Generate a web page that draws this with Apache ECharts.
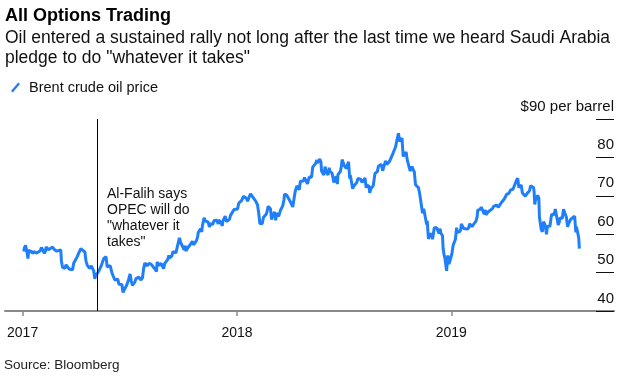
<!DOCTYPE html>
<html>
<head>
<meta charset="utf-8">
<script src="https://cdn.jsdelivr.net/npm/echarts@6/dist/echarts.min.js"></script>
<style>
  html, body { margin: 0; padding: 0; background: #fff; }
  #chart { width: 627px; height: 376px; }
</style>
</head>
<body>
<div id="chart"></div>
<script>
// Brent crude (roughly 2-3 points a week)
var dates = [
  '2017-01-03','2017-01-04','2017-01-05','2017-01-06','2017-01-09','2017-01-10','2017-01-11','2017-01-12','2017-01-13','2017-01-17',
  '2017-01-18','2017-01-20','2017-01-23','2017-01-25','2017-01-27','2017-01-31','2017-02-02','2017-02-03','2017-02-07','2017-02-09',
  '2017-02-10','2017-02-14','2017-02-16','2017-02-17','2017-02-21','2017-02-23','2017-02-24','2017-02-28','2017-03-02','2017-03-03',
  '2017-03-07','2017-03-08','2017-03-09','2017-03-10','2017-03-13','2017-03-14','2017-03-16','2017-03-17','2017-03-21','2017-03-22',
  '2017-03-24','2017-03-27','2017-03-29','2017-03-31','2017-04-04','2017-04-06','2017-04-07','2017-04-10','2017-04-12','2017-04-13',
  '2017-04-17','2017-04-19','2017-04-21','2017-04-25','2017-04-27','2017-04-28','2017-05-02','2017-05-04','2017-05-05','2017-05-08',
  '2017-05-10','2017-05-12','2017-05-15','2017-05-17','2017-05-19','2017-05-23','2017-05-24','2017-05-25','2017-05-30','2017-06-01',
  '2017-06-02','2017-06-05','2017-06-07','2017-06-09','2017-06-12','2017-06-14','2017-06-16','2017-06-19','2017-06-21','2017-06-23',
  '2017-06-27','2017-06-30','2017-07-03','2017-07-05','2017-07-07','2017-07-11','2017-07-13','2017-07-14','2017-07-18','2017-07-20',
  '2017-07-21','2017-07-24','2017-07-26','2017-07-28','2017-08-01','2017-08-03','2017-08-04','2017-08-08','2017-08-10','2017-08-11',
  '2017-08-15','2017-08-17','2017-08-18','2017-08-22','2017-08-24','2017-08-25','2017-08-29','2017-08-31','2017-09-01','2017-09-05',
  '2017-09-07','2017-09-08','2017-09-12','2017-09-14','2017-09-15','2017-09-19','2017-09-21','2017-09-22','2017-09-25','2017-09-27',
  '2017-09-29','2017-10-03','2017-10-05','2017-10-06','2017-10-10','2017-10-12','2017-10-13','2017-10-17','2017-10-19','2017-10-20',
  '2017-10-24','2017-10-26','2017-10-27','2017-10-31','2017-11-02','2017-11-03','2017-11-06','2017-11-08','2017-11-10','2017-11-13',
  '2017-11-15','2017-11-17','2017-11-21','2017-11-23','2017-11-24','2017-11-28','2017-11-30','2017-12-01','2017-12-05','2017-12-07',
  '2017-12-08','2017-12-12','2017-12-14','2017-12-15','2017-12-19','2017-12-21','2017-12-22','2017-12-27','2017-12-29',
  '2018-01-02','2018-01-04','2018-01-05','2018-01-09','2018-01-11','2018-01-12','2018-01-15','2018-01-17','2018-01-19','2018-01-22',
  '2018-01-24','2018-01-26','2018-01-29','2018-01-31','2018-02-02','2018-02-05','2018-02-07','2018-02-09','2018-02-13','2018-02-15',
  '2018-02-16','2018-02-20','2018-02-22','2018-02-23','2018-02-27','2018-03-01','2018-03-02','2018-03-06','2018-03-08','2018-03-09',
  '2018-03-13','2018-03-15','2018-03-16','2018-03-20','2018-03-22','2018-03-23','2018-03-27','2018-03-29','2018-04-03','2018-04-05',
  '2018-04-06','2018-04-10','2018-04-12','2018-04-13','2018-04-17','2018-04-19','2018-04-20','2018-04-24','2018-04-26','2018-04-27',
  '2018-05-01','2018-05-03','2018-05-04','2018-05-08','2018-05-10','2018-05-11','2018-05-15','2018-05-17','2018-05-18','2018-05-22',
  '2018-05-24','2018-05-25','2018-05-29','2018-05-31','2018-06-01','2018-06-05','2018-06-07','2018-06-08','2018-06-12','2018-06-14',
  '2018-06-15','2018-06-19','2018-06-21','2018-06-22','2018-06-26','2018-06-28','2018-06-29','2018-07-03','2018-07-05','2018-07-06',
  '2018-07-10','2018-07-12','2018-07-13','2018-07-17','2018-07-19','2018-07-20','2018-07-24','2018-07-26','2018-07-27','2018-07-31',
  '2018-08-02','2018-08-03','2018-08-07','2018-08-09','2018-08-10','2018-08-14','2018-08-15','2018-08-17','2018-08-21','2018-08-23',
  '2018-08-24','2018-08-28','2018-08-30','2018-08-31','2018-09-04','2018-09-06','2018-09-07','2018-09-11','2018-09-13','2018-09-14',
  '2018-09-18','2018-09-20','2018-09-21','2018-09-24','2018-09-26','2018-09-28','2018-10-01','2018-10-03','2018-10-05','2018-10-09',
  '2018-10-11','2018-10-12','2018-10-16','2018-10-18','2018-10-19','2018-10-23','2018-10-25','2018-10-26','2018-10-30','2018-11-01',
  '2018-11-02','2018-11-06','2018-11-08','2018-11-09','2018-11-13','2018-11-15','2018-11-16','2018-11-20','2018-11-21','2018-11-23',
  '2018-11-27','2018-11-29','2018-11-30','2018-12-03','2018-12-05','2018-12-07','2018-12-11','2018-12-13','2018-12-14','2018-12-17',
  '2018-12-18','2018-12-20','2018-12-21','2018-12-24','2018-12-26','2018-12-28','2018-12-31',
  '2019-01-02','2019-01-04','2019-01-08','2019-01-10','2019-01-11','2019-01-15','2019-01-17','2019-01-18','2019-01-22','2019-01-24',
  '2019-01-25','2019-01-29','2019-01-31','2019-02-01','2019-02-05','2019-02-07','2019-02-08','2019-02-12','2019-02-14','2019-02-15',
  '2019-02-19','2019-02-21','2019-02-22','2019-02-26','2019-02-28','2019-03-01','2019-03-05','2019-03-07','2019-03-08','2019-03-12',
  '2019-03-14','2019-03-15','2019-03-19','2019-03-21','2019-03-22','2019-03-26','2019-03-28','2019-03-29','2019-04-02','2019-04-04',
  '2019-04-05','2019-04-09','2019-04-11','2019-04-12','2019-04-16','2019-04-18','2019-04-22','2019-04-24','2019-04-25','2019-04-26',
  '2019-04-30','2019-05-02','2019-05-03','2019-05-07','2019-05-09','2019-05-10','2019-05-14','2019-05-16','2019-05-17','2019-05-21',
  '2019-05-22','2019-05-23','2019-05-24','2019-05-28','2019-05-30','2019-05-31','2019-06-03','2019-06-05','2019-06-07','2019-06-10',
  '2019-06-12','2019-06-13','2019-06-14','2019-06-18','2019-06-20','2019-06-21','2019-06-25','2019-06-27','2019-06-28','2019-07-02',
  '2019-07-04','2019-07-05','2019-07-09','2019-07-11','2019-07-12','2019-07-16','2019-07-18','2019-07-19','2019-07-23','2019-07-25',
  '2019-07-26','2019-07-30','2019-07-31','2019-08-01','2019-08-02','2019-08-05','2019-08-06','2019-08-07'
];
var prices = [
  55.47,56.46,56.89,57.10,54.94,53.64,55.10,56.01,55.45,55.47,
  54.92,55.49,55.23,55.08,55.52,55.70,56.56,56.81,55.05,55.63,
  56.70,55.97,55.65,55.81,56.66,56.58,56.00,55.59,55.08,55.90,
  55.92,53.11,52.19,51.37,51.35,51.10,52.04,51.76,50.96,50.64,
  50.80,50.75,52.42,52.83,54.17,54.89,55.24,56.23,55.86,55.89,
  55.36,52.93,51.96,51.10,51.44,51.73,50.46,48.38,49.10,49.34,
  50.22,50.84,51.82,52.21,53.61,54.15,53.96,51.46,51.84,50.63,
  49.95,49.47,48.06,48.15,48.29,46.98,47.37,46.91,44.82,45.54,
  46.65,47.92,49.67,47.79,46.71,47.52,48.42,48.91,48.84,49.30,
  48.06,48.60,50.97,52.52,51.78,52.01,52.42,52.14,51.90,52.10,
  50.80,50.27,52.72,51.87,52.04,52.41,51.00,52.38,52.75,53.38,
  54.49,53.78,54.27,55.47,55.62,55.14,56.43,56.86,59.02,57.90,
  57.54,55.94,57.00,55.62,56.61,56.25,57.17,58.17,57.24,57.75,
  58.33,59.30,60.44,61.37,60.62,62.07,64.27,63.49,63.52,63.16,
  61.87,62.72,62.57,63.55,63.86,63.61,62.63,63.73,62.86,62.20,
  63.40,64.69,63.31,63.23,63.80,64.90,65.25,66.44,66.87,
  66.57,68.07,67.62,68.82,69.26,69.87,70.26,69.38,68.61,69.03,
  70.53,70.52,69.46,69.05,68.58,67.62,65.51,62.79,62.72,64.33,
  64.84,65.25,66.39,67.31,66.63,63.83,64.37,65.79,63.61,65.49,
  64.64,65.12,66.21,67.42,68.91,70.45,70.11,70.27,68.12,68.33,
  67.11,71.04,72.02,72.58,71.58,73.78,74.06,73.86,74.74,74.64,
  73.13,73.62,74.87,74.85,77.47,77.12,78.43,79.30,78.51,79.57,
  78.79,76.44,75.39,77.59,76.79,75.38,77.32,76.46,75.88,75.94,
  73.44,75.08,73.05,75.55,76.31,77.85,79.44,77.76,77.39,77.11,
  78.86,74.45,75.33,71.84,72.58,73.07,73.44,74.54,74.29,74.25,
  73.45,73.21,74.65,72.07,72.81,72.46,70.76,71.83,72.63,74.73,
  75.82,76.31,77.77,77.42,78.17,76.50,76.83,79.06,78.18,78.09,
  79.03,79.40,78.80,81.20,81.34,82.72,84.98,86.29,84.16,85.00,
  80.26,80.43,81.41,79.29,79.78,76.44,76.89,77.62,76.17,72.89,
  72.83,72.13,70.65,70.18,65.47,66.62,66.76,62.53,63.48,58.80,
  60.21,59.51,58.71,61.69,61.56,61.67,60.20,61.45,60.28,59.61,
  56.26,54.35,53.82,50.47,54.47,52.20,53.80,
  54.91,57.06,58.72,61.68,60.48,60.64,61.18,62.70,61.50,61.09,
  61.64,61.32,61.89,62.75,61.98,61.63,62.10,63.42,64.57,66.25,
  66.45,67.07,67.12,65.21,66.31,65.07,65.86,66.30,65.74,66.67,
  67.23,67.16,67.61,67.86,67.03,67.97,67.82,68.39,69.37,69.40,
  70.34,70.61,71.02,71.55,71.72,71.97,74.04,74.57,74.35,72.15,
  72.80,70.75,70.85,69.88,70.39,70.62,71.24,72.62,72.21,72.18,
  70.99,67.76,68.69,70.11,69.45,64.49,61.28,60.63,63.29,62.29,
  59.97,61.31,62.01,62.14,64.45,65.20,65.05,66.55,66.55,62.40,
  63.30,64.23,64.16,66.52,66.72,64.35,61.93,62.47,63.83,63.39,
  63.46,64.72,65.17,60.50,61.89,59.81,58.94,56.23
];
var yearTicks = ['2017-01-01', '2018-01-01', '2019-01-01'];
var eventDate = '2017-05-08';
var xStart = '2016-12-02';
var xEnd = '2019-10-05';

var FONT = '"Liberation Sans", Arial, Helvetica, sans-serif';
var BLUE = '#1f7ff9';

function ts(s) {
  var p = s.split('-');
  return Date.UTC(+p[0], +p[1] - 1, +p[2]);
}

var seriesData = dates.map(function (d, i) { return [ts(d), prices[i]]; });
var tickValues = yearTicks.map(ts);

var myChart = echarts.init(document.getElementById('chart'));
var option = {
  animation: false,
  backgroundColor: '#fff',
  textStyle: { fontFamily: FONT },
  legend: {
    left: 6,
    top: 75,
    itemWidth: 9,
    itemHeight: 11,
    icon: 'path://M0,9.5 L8,0 L10,1.6 L2,11.1 Z',
    textStyle: { fontSize: 14.5, color: '#111', fontFamily: FONT, padding: [0, 0, 0, 4] },
    data: ['Brent crude oil price']
  },
  grid: {
    left: 5,
    right: 13,
    top: 119,
    bottom: 65,
    containLabel: false,
    outerBoundsMode: 'none'
  },
  xAxis: {
    type: 'value',
    min: ts(xStart),
    max: ts(xEnd),
    scale: true,
    splitLine: { show: false },
    axisLine: { show: true, lineStyle: { color: '#8a8a8a', width: 2 } },
    axisTick: {
      show: true,
      length: 5,
      lineStyle: { color: '#8a8a8a', width: 1.5 },
      customValues: tickValues
    },
    axisLabel: {
      fontSize: 14,
      color: '#111',
      fontFamily: FONT,
      margin: 15,
      customValues: tickValues,
      formatter: function (v) { return String(new Date(v).getUTCFullYear()); }
    }
  },
  yAxis: {
    type: 'value',
    position: 'right',
    min: 40,
    max: 90,
    interval: 10,
    splitLine: { show: false },
    axisLine: { show: false },
    axisTick: {
      show: true,
      inside: true,
      length: 18,
      lineStyle: { color: '#111', width: 1 }
    },
    axisLabel: {
      inside: true,
      margin: 0,
      fontSize: 15,
      color: '#111',
      fontFamily: FONT,
      verticalAlign: 'bottom',
      lineHeight: 15,
      padding: [0, 0, 5, 0],
      formatter: function (v) { return v === 90 ? '$90 per barrel' : String(v); }
    }
  },
  series: [{
    name: 'Brent crude oil price',
    type: 'line',
    data: seriesData,
    showSymbol: false,
    symbol: 'none',
    color: BLUE,
    lineStyle: { color: BLUE, width: 3 },
    markLine: {
      silent: true,
      symbol: ['none', 'none'],
      label: { show: false },
      lineStyle: { color: '#000', width: 1, type: 'solid' },
      data: [{ xAxis: ts(eventDate) }]
    }
  }],
  graphic: [
    {
      type: 'text', left: 5, top: 7,
      style: { text: 'All Options Trading', font: 'bold 18px ' + FONT, fill: '#000' }
    },
    {
      type: 'text', left: 5, top: 28,
      style: {
        text: 'Oil entered a sustained rally not long after the last time we heard Saudi Arabia\npledge to do "whatever it takes"',
        font: '17.5px ' + FONT, fill: '#111', lineHeight: 20
      }
    },
    {
      type: 'text', left: 107, top: 186,
      style: {
        text: 'Al-Falih says\nOPEC will do\n"whatever it\ntakes"',
        font: '14px ' + FONT, fill: '#111', lineHeight: 16
      }
    },
    {
      type: 'text', left: 4, top: 358,
      style: { text: 'Source: Bloomberg', font: '13.5px ' + FONT, fill: '#222' }
    }
  ]
};
myChart.setOption(option, true);
</script>
</body>
</html>
